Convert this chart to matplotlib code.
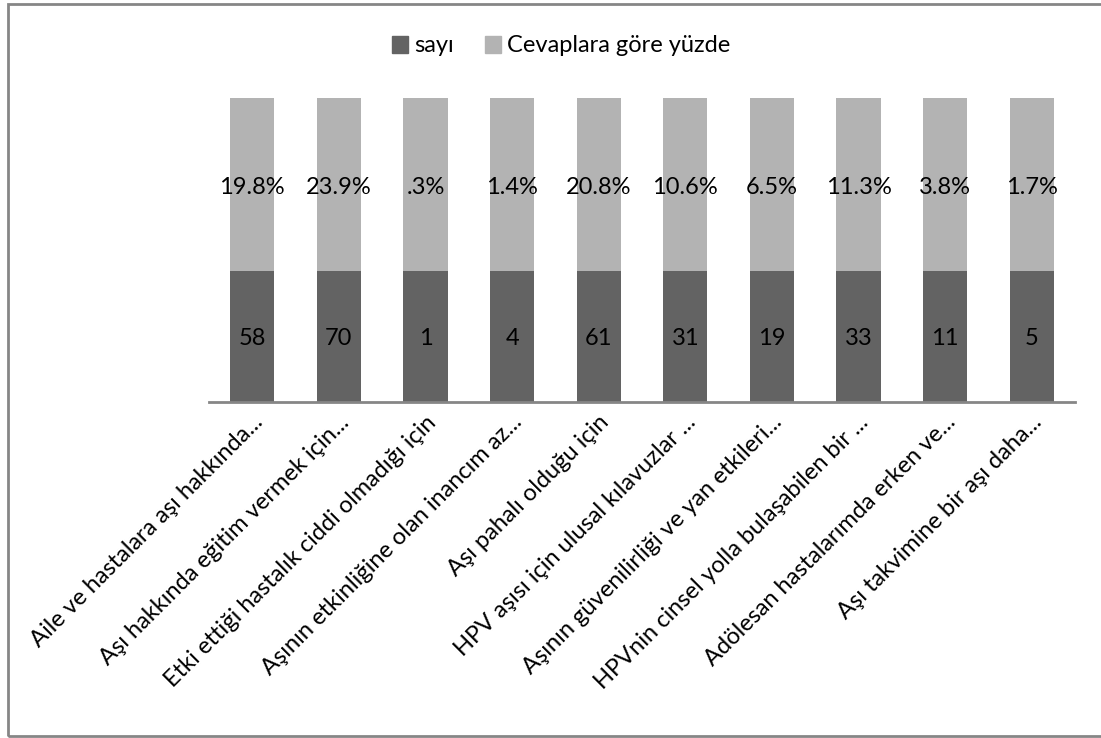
import matplotlib.pyplot as plt
from matplotlib.patches import Rectangle, Patch
from matplotlib.transforms import offset_copy

plt.rcParams['font.family'] = ['Lato', 'DejaVu Sans']

categories = ['Aile ve hastalara aşı hakkında...',
              'Aşı hakkında eğitim vermek için...',
              'Etki ettiği hastalık ciddi olmadığı için',
              'Aşının etkinliğine olan inancım az...',
              'Aşı pahalı olduğu için',
              'HPV aşısı için ulusal kılavuzlar ...',
              'Aşının güvenilirliği ve yan etkileri...',
              'HPVnin cinsel yolla bulaşabilen bir ...',
              'Adölesan hastalarımda erken ve...',
              'Aşı takvimine bir aşı daha...']
sayi = [58, 70, 1, 4, 61, 31, 19, 33, 11, 5]
yuzde_labels = ['19.8%', '23.9%', '.3%', '1.4%', '20.8%', '10.6%', '6.5%', '11.3%', '3.8%', '1.7%']

# segment shares as drawn (100% stacked look)
sayi_share = [43, 43, 43, 43, 43, 43, 43, 43, 43, 43]
yuzde_share = [57, 57, 57, 57, 57, 57, 57, 57, 57, 57]

dark = '#636363'
light = '#b3b3b3'

fig = plt.figure(figsize=(11.01, 7.38), dpi=100)
ax = fig.add_axes([209 / 1101, 1 - 402 / 738, 866 / 1101, 304 / 738])

x = list(range(len(categories)))
ax.bar(x, sayi_share, width=0.51, color=dark, edgecolor='none')
ax.bar(x, yuzde_share, width=0.51, bottom=sayi_share, color=light, edgecolor='none')

for i in x:
    ax.text(i, sayi_share[i] / 2 - 0.5, str(sayi[i]), ha='center', va='center', fontsize=17, color='black')
    ax.text(i, sayi_share[i] + yuzde_share[i] / 2 - 0.8, yuzde_labels[i], ha='center', va='center',
            fontsize=17, color='black')

ax.set_xlim(-0.5, len(categories) - 0.5)
ax.set_ylim(0, 100)
for s in ['top', 'right', 'left']:
    ax.spines[s].set_visible(False)
ax.spines['bottom'].set_color('#868686')
ax.spines['bottom'].set_linewidth(2)
ax.set_yticks([])
ax.set_xticks(x)
ax.set_xticklabels([])
ax.tick_params(axis='x', length=0)

trans = offset_copy(ax.get_xaxis_transform(), fig=fig, x=7, y=-17, units='dots')
for i, lab in enumerate(categories):
    ax.text(i, 0, lab, transform=trans, rotation=45, rotation_mode='anchor',
            ha='right', va='center', fontsize=17, color='black')

handles = [Patch(color=dark, label='sayı'), Patch(color=light, label='Cevaplara göre yüzde')]
fig.legend(handles=handles, loc='center', bbox_to_anchor=(561 / 1101, 1 - 46 / 738), ncol=2,
           frameon=False, fontsize=17, handlelength=0.7, handleheight=0.7,
           handletextpad=0.25, columnspacing=1.3)

fig.patches.append(Rectangle((8 / 1101, 2 / 738), 1.05, 1 - 6 / 738, transform=fig.transFigure,
                             fill=False, edgecolor='#868686', linewidth=2))

fig.savefig('out.png', dpi=100)
